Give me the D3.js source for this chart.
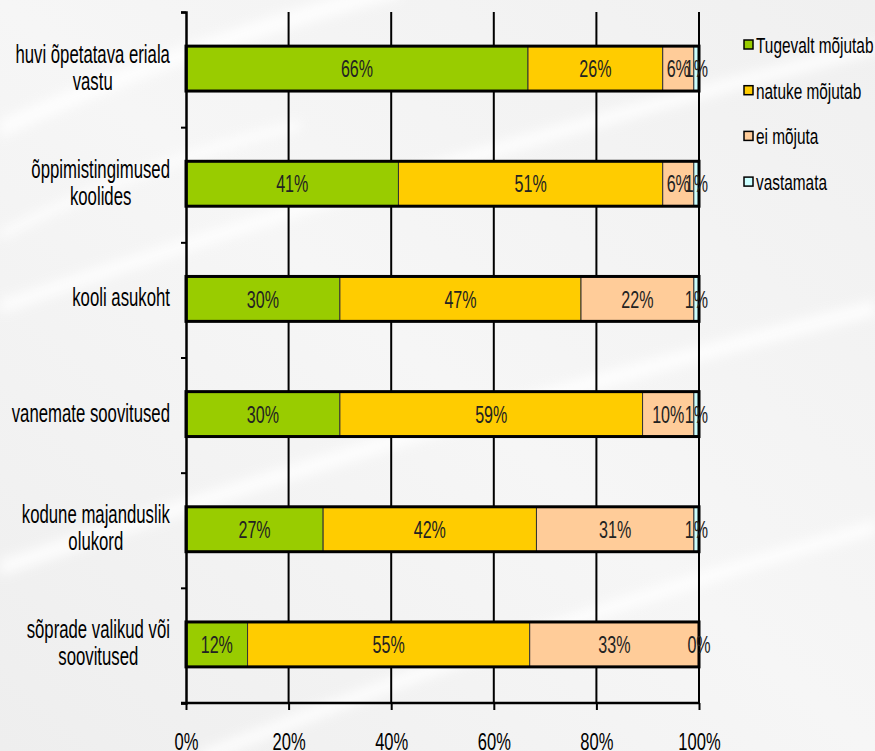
<!DOCTYPE html>
<html><head><meta charset="utf-8">
<script src="https://cdn.jsdelivr.net/npm/d3@7"></script>
<style>
body{margin:0;background:#f2f2f2;}
svg{display:block;}
text{font-family:"Liberation Sans",Arial,sans-serif;}
</style>
</head><body>
<svg id="chart" width="875" height="751"></svg>
<script>
const categories = [
  "huvi õpetatava eriala\nvastu",
  "õppimistingimused\nkoolides",
  "kooli asukoht",
  "vanemate soovitused",
  "kodune majanduslik\nolukord",
  "sõprade valikud või\nsoovitused"
];
const seriesNames = ["Tugevalt mõjutab", "natuke mõjutab", "ei mõjuta", "vastamata"];
const strongly = [66, 41, 30, 30, 27, 12];
const somewhat = [26, 51, 47, 59, 42, 55];
const notAtAll = [6, 6, 22, 10, 31, 33];
const noAnswer = [1, 1, 1, 1, 1, 0];
const xTicks = [0, 0.2, 0.4, 0.6, 0.8, 1];
const colors = ["#99cc00", "#ffcc00", "#ffcc99", "#ccffff"];

const rows = categories.map((c, i) => ({
  cat: c,
  [seriesNames[0]]: strongly[i],
  [seriesNames[1]]: somewhat[i],
  [seriesNames[2]]: notAtAll[i],
  [seriesNames[3]]: noAnswer[i]
}));

const SX = 0.67; // horizontal compression (tall narrow font look)
const svg = d3.select("#chart");
const W = 875, H = 751;
const pL = 186, pR = 699, pT = 12, pB = 703;

// background
const defs = svg.append("defs");
const bg = defs.append("linearGradient").attr("id", "bg").attr("x1", 0).attr("y1", 1).attr("x2", 1).attr("y2", 0);
bg.append("stop").attr("offset", 0).attr("stop-color", "#eeeeee");
bg.append("stop").attr("offset", 0.5).attr("stop-color", "#f6f6f6");
bg.append("stop").attr("offset", 1).attr("stop-color", "#f0f0f0");
defs.append("filter").attr("id", "blur").append("feGaussianBlur").attr("stdDeviation", 6);
svg.append("rect").attr("width", W).attr("height", H).attr("fill", "url(#bg)");
const swooshes = svg.append("g").attr("filter", "url(#blur)").attr("fill", "#ffffff").attr("opacity", 0.85);
[[0, 120, 400, -20, 18], [0, 300, 875, 40, 14], [0, 560, 875, 300, 16], [200, 751, 875, 520, 14], [0, 230, 300, 120, 10]].forEach(s => {
  const [x1, y1, x2, y2, w] = s;
  swooshes.append("path")
    .attr("d", `M${x1},${y1} Q${(x1 + x2) / 2},${(y1 + y2) / 2 - 20} ${x2},${y2} L${x2},${y2 + w} Q${(x1 + x2) / 2},${(y1 + y2) / 2 - 20 + w} ${x1},${y1 + w}Z`);
});

const x = d3.scaleLinear().domain([0, 1]).range([pL, pR]);
const y = d3.scaleBand().domain(categories).range([pT - 1, pB - 1]).paddingInner(0.61).paddingOuter(0.305);
const yb = d3.scaleLinear().domain([0, categories.length]).range([pT, pB]);

// gridlines
svg.append("g").selectAll("line").data(xTicks.slice(1)).join("line")
  .attr("x1", d => x(d)).attr("x2", d => x(d))
  .attr("y1", pT).attr("y2", pB)
  .attr("stroke", "#000").attr("stroke-width", 2);

// stacked bars
const stack = d3.stack().keys(seriesNames).offset(d3.stackOffsetExpand);
const series = stack(rows);
const gBars = svg.append("g");
series.forEach((s, si) => {
  gBars.append("g").selectAll("rect").data(s).join("rect")
    .attr("x", d => x(d[0])).attr("width", d => x(d[1]) - x(d[0]))
    .attr("y", d => y(d.data.cat)).attr("height", y.bandwidth())
    .attr("fill", colors[si]).attr("stroke", "#333").attr("stroke-width", 1);
});
// bar outlines
gBars.append("g").selectAll("rect").data(rows).join("rect")
  .attr("x", x(0)).attr("width", x(1) - x(0))
  .attr("y", d => y(d.cat)).attr("height", y.bandwidth())
  .attr("fill", "none").attr("stroke", "#000").attr("stroke-width", 3);

// data labels
series.forEach((s, si) => {
  gBars.append("g").selectAll("text").data(s).join("text")
    .attr("transform", d => `translate(${x((d[0] + d[1]) / 2)},${y(d.data.cat) + y.bandwidth() / 2}) scale(${SX},1)`)
    .attr("dy", "0.36em")
    .attr("text-anchor", "middle")
    .attr("font-size", 24)
    .attr("fill", "#222")
    .text(d => d.data[seriesNames[si]] + "%");
});

// left axis (ticks at category boundaries)
const axL = svg.append("g").attr("transform", `translate(${pL},0)`)
  .call(d3.axisLeft(yb).tickValues(d3.range(categories.length + 1)).tickSize(5).tickFormat(""));
axL.select(".domain").attr("stroke-width", 2.5);
axL.selectAll(".tick line").attr("stroke-width", 2);

// bottom axis
const axB = svg.append("g").attr("transform", `translate(0,${pB})`)
  .call(d3.axisBottom(x).tickValues(xTicks).tickSize(7).tickPadding(23).tickFormat(d3.format(".0%")));
axB.select(".domain").attr("stroke-width", 2.5).attr("d", `M${pL - 5},0H${pR}`);
axB.selectAll(".tick line").attr("stroke-width", 2);
axB.selectAll("text").attr("font-size", 24).attr("fill", "#000")
  .attr("transform", `scale(0.69,1)`)
  .style("font-family", '"Liberation Sans",Arial,sans-serif');

// category labels
const gCat = svg.append("g");
categories.forEach(c => {
  const lines = c.split("\n");
  const t = gCat.append("text").attr("font-size", 25).attr("fill", "#000").attr("text-anchor", "middle");
  const cy = y(c) + y.bandwidth() / 2;
  const lh = 27;
  lines.forEach((ln, i) => {
    t.append("tspan").attr("x", 0).attr("y", (i - (lines.length - 1) / 2) * lh).attr("dy", "0.3em").text(ln);
  });
  const w = t.node().getBBox().width * SX;
  t.attr("transform", `translate(${170 - w / 2},${cy}) scale(${SX},1)`);
});

// legend
const lg = svg.append("g");
seriesNames.forEach((n, i) => {
  const ly = 45 + i * 45.7;
  lg.append("rect").attr("x", 744).attr("y", ly - 5).attr("width", 9).attr("height", 9)
    .attr("fill", colors[i]).attr("stroke", "#000").attr("stroke-width", 1.5);
  lg.append("text").attr("transform", `translate(756,${ly}) scale(0.7,1)`).attr("dy", "0.36em")
    .attr("font-size", 22).attr("fill", "#000").text(n);
});
</script>
</body></html>
